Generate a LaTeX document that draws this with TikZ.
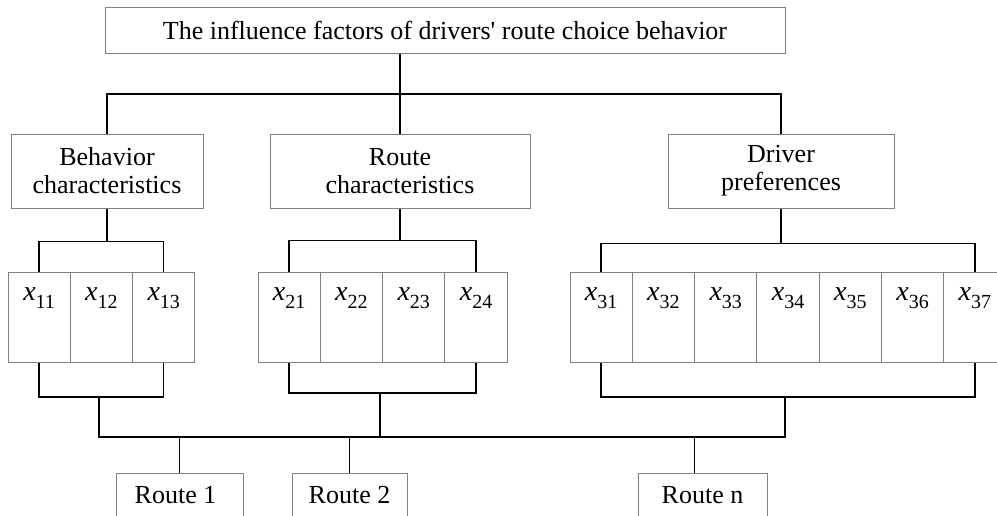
\documentclass[tikz,border=0pt]{standalone}
\usepackage{amsmath}
\usepackage{fontspec}
\setmainfont{Liberation Serif}[Ligatures=TeXOff]
\usetikzlibrary{positioning}

\newcommand{\xsub}[1]{\textit{x}\raisebox{-6pt}{\fontsize{15}{15}\selectfont #1}}

\tikzset{
	box/.style={draw=black!50, line width=0.75pt, align=center, inner sep=0pt, font=\fontsize{19.5}{21}\selectfont},
	cell/.style={draw=black!50, line width=0.75pt, inner sep=0pt, minimum width=46.7pt, text height=21pt, text depth=46.5pt, font=\fontsize{21}{21}\selectfont},
	route/.style={draw=black!50, line width=0.75pt, inner sep=0pt, text height=22.5pt, text depth=22.5pt, font=\fontsize{19.5}{21}\selectfont},
	wire/.style={line width=1pt}
}

\begin{document}
\begin{tikzpicture}[x=0.75pt, y=-0.75pt]
	\useasboundingbox (0,0) rectangle (997,515);
	\clip (0,0) rectangle (997,515);

	\node[box, minimum width=510pt, minimum height=34.5pt] (top) at (445,30) {The influence factors of drivers' route choice behavior};

	\node[box, minimum width=144pt, minimum height=55.5pt] (beh) at (107,171) {Behavior\\characteristics};
	\node[box, minimum width=195pt, minimum height=55.5pt] (rte) at (400,171) {Route\\characteristics};
	\node[box, minimum width=169.5pt, minimum height=55.5pt] (drv) at (781,171) {Driver\\preferences};

	% factor cells
	\foreach \i in {1,...,3}
		\node[cell] (c1\i) at ({8+62.3*(\i-0.5)},317) {\xsub{1\i}};
	\foreach \i in {1,...,4}
		\node[cell] (c2\i) at ({258+62.3*(\i-0.5)},317) {\xsub{2\i}};
	\foreach \i in {1,...,7}
		\node[cell] (c3\i) at ({570+62.3*(\i-0.5)},317) {\xsub{3\i}};

	\node[route, minimum width=95.25pt] (r1) at (179.5,503) {Route 1\hspace*{6pt}};
	\node[route, minimum width=86.25pt] (r2) at (349.5,503) {Route 2};
	\node[route, minimum width=96.75pt] (rn) at (702.5,503) {Route n};

	\coordinate (bus1) at (400,94);
	\draw[wire] (top.south -| rte.north) -- (rte.north);
	\draw[wire] (beh.north) |- (bus1) -| (drv.north);

	\draw[wire] (beh.south) -- ++(0,33) coordinate (g1);
	\draw[wire] (rte.south) -- ++(0,32) coordinate (g2);
	\draw[wire] (drv.south) -- ++(0,35) coordinate (g3);
	\draw[wire] (c11.north) |- (g1) -| (c13.north);
	\draw[wire] (c21.north) |- (g2) -| (c24.north);
	\draw[wire] (c31.north) |- (g3) -| (c37.north);

	\coordinate (h1) at (99,397);
	\coordinate (h2) at (380,393);
	\coordinate (h3) at (785,397);
	\draw[wire] (c11.south) |- (h1) -| (c13.south);
	\draw[wire] (c21.south) |- (h2) -| (c24.south);
	\draw[wire] (c31.south) |- (h3) -| (c37.south);

	\coordinate (bus2) at (380,437);
	\draw[wire] (h1) |- (bus2) -| (h3);
	\draw[wire] (h2) -- (bus2);

	\path ([xshift=-6pt]rn.north) coordinate (rd);
	\draw[wire] (r1.north |- bus2) -- (r1.north);
	\draw[wire] (r2.north |- bus2) -- (r2.north);
	\draw[wire] (rd |- bus2) -- (rd);
\end{tikzpicture}
\end{document}
